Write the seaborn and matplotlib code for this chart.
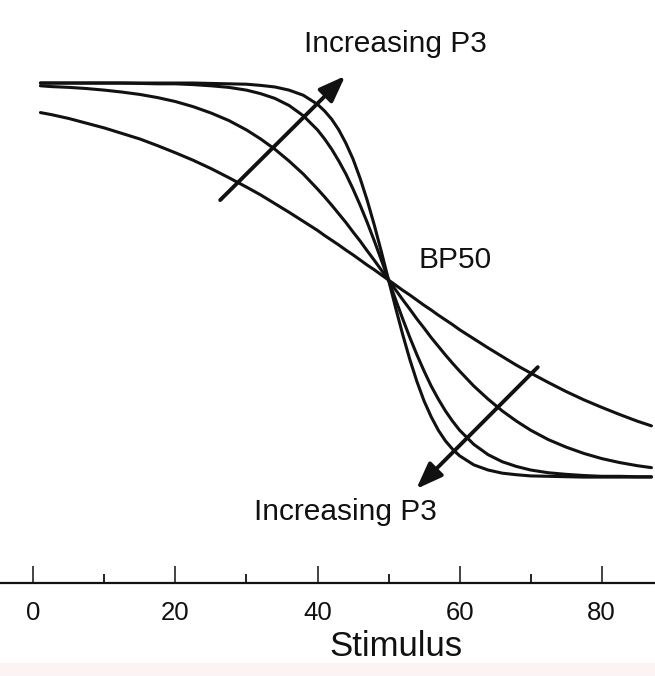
import matplotlib
matplotlib.use("Agg")
import matplotlib.pyplot as plt
import seaborn as sns
import pandas as pd
from matplotlib.patches import Rectangle

# ---- data ----
stimulus = [1, 2.5, 5, 7.5, 10, 12.5, 15, 17.5, 20, 22.5, 25, 27.5, 30, 32, 34, 36, 38,
            40, 41, 42, 43, 44, 45, 46, 47, 48, 49, 50, 51, 52, 53, 54, 55, 56, 57, 58, 59,
            60, 62, 64, 66, 68, 70, 72.5, 75, 77.5, 80, 82.5, 85, 87]

curve_p3_1 = [0.925, 0.920, 0.910, 0.898, 0.886, 0.872, 0.858, 0.841, 0.823, 0.804, 0.783,
              0.760, 0.736, 0.716, 0.694, 0.672, 0.649,
              0.626, 0.613, 0.601, 0.589, 0.576, 0.564, 0.551, 0.538, 0.526, 0.513, 0.500,
              0.487, 0.474, 0.462, 0.449, 0.436, 0.424, 0.411, 0.399, 0.387,
              0.374, 0.351, 0.328, 0.306, 0.284, 0.264, 0.240, 0.217, 0.196, 0.177, 0.159,
              0.142, 0.130]

curve_p3_2 = [0.993, 0.991, 0.989, 0.986, 0.982, 0.977, 0.971, 0.963, 0.953, 0.940, 0.924,
              0.905, 0.881, 0.858, 0.832, 0.802, 0.769,
              0.731, 0.711, 0.690, 0.668, 0.646, 0.622, 0.599, 0.574, 0.550, 0.525, 0.500,
              0.475, 0.450, 0.426, 0.401, 0.378, 0.354, 0.332, 0.310, 0.289,
              0.269, 0.231, 0.198, 0.168, 0.142, 0.119, 0.095, 0.076, 0.060, 0.047, 0.037,
              0.029, 0.024]

curve_p3_3 = [1.000, 1.000, 1.000, 1.000, 1.000, 1.000, 0.999, 0.998, 0.998, 0.996, 0.993,
              0.989, 0.982, 0.973, 0.961, 0.943, 0.917,
              0.881, 0.858, 0.832, 0.802, 0.769, 0.731, 0.690, 0.646, 0.599, 0.550, 0.500,
              0.450, 0.401, 0.354, 0.310, 0.269, 0.231, 0.198, 0.168, 0.142,
              0.119, 0.083, 0.057, 0.039, 0.027, 0.018, 0.011, 0.007, 0.004, 0.002, 0.002,
              0.001, 0.001]

curve_p3_4 = [1.000, 1.000, 1.000, 1.000, 1.000, 1.000, 1.000, 1.000, 1.000, 1.000, 0.999,
              0.998, 0.997, 0.994, 0.990, 0.982, 0.969,
              0.946, 0.929, 0.908, 0.881, 0.847, 0.807, 0.758, 0.702, 0.639, 0.571, 0.500,
              0.429, 0.361, 0.298, 0.242, 0.193, 0.153, 0.119, 0.092, 0.071,
              0.054, 0.031, 0.018, 0.010, 0.006, 0.003, 0.002, 0.001, 0.000, 0.000, 0.000,
              0.000, 0.000]

curve_names = ["P3 low", "P3 mid-low", "P3 mid-high", "P3 high"]
major_ticks = [0, 20, 40, 60, 80]
minor_ticks = [10, 30, 50, 70]
tick_labels = ["0", "20", "40", "60", "80"]

rows = []
for name, vals in zip(curve_names, [curve_p3_1, curve_p3_2, curve_p3_3, curve_p3_4]):
    for xv, yv in zip(stimulus, vals):
        rows.append({"Stimulus": xv, "Response": yv, "curve": name})
df = pd.DataFrame(rows)

# ---- style ----
sns.set_style("white")
plt.rcParams["font.family"] = ["Liberation Sans", "DejaVu Sans"]

fig = plt.figure(figsize=(6.55, 6.76), dpi=100)
fig.patch.set_facecolor("white")
ax = fig.add_axes([0.0, 0.138, 1.0, 0.862])
ax.set_facecolor("none")

sns.lineplot(data=df, x="Stimulus", y="Response", hue="curve",
             palette=["#111111"] * 4, legend=False, errorbar=None,
             linewidth=2.2, ax=ax)

ax.set_xlim(-4.69, 87.5)
ax.set_ylim(-0.268, 1.2107)

for side in ["left", "right", "top"]:
    ax.spines[side].set_visible(False)
ax.spines["bottom"].set_linewidth(1.6)
ax.spines["bottom"].set_color("#111111")

ax.set_yticks([])
ax.set_ylabel("")
ax.set_xticks(major_ticks)
ax.set_xticklabels(tick_labels)
ax.set_xticks(minor_ticks, minor=True)
ax.tick_params(axis="x", which="both", bottom=True, top=False)
ax.tick_params(axis="x", which="major", direction="in", length=12, width=1.1,
               labelsize=18.5, pad=13, color="#111111", labelcolor="#111111")
ax.tick_params(axis="x", which="minor", direction="in", length=6.5, width=1.3,
               color="#111111")

ax.set_xlabel("Stimulus", fontsize=25, color="#111111")
ax.xaxis.set_label_coords(395.5 / 655, -0.081)

# ---- annotations ----
txt_kw = dict(fontsize=21.5, color="#111111", ha="center", va="baseline")
ax.text(50.9, 1.0795, "Increasing P3", **txt_kw)
ax.text(59.4, 0.530, "BP50", **txt_kw)
ax.text(44.0, -0.109, "Increasing P3", **txt_kw)

arrow_kw = dict(arrowstyle="-|>,head_length=0.8,head_width=0.3", lw=2.8,
                color="#111111", mutation_scale=20, shrinkA=0, shrinkB=0)
ax.annotate("", xy=(43.9, 1.018), xytext=(26.3, 0.703), arrowprops=arrow_kw)
ax.annotate("", xy=(53.9, -0.030), xytext=(71.0, 0.279), arrowprops=arrow_kw)

# faint pink band at the bottom of the scan
fig.patches.append(Rectangle((0, 0), 1, 13 / 676, transform=fig.transFigure,
                             facecolor="#fcf3f5", edgecolor="none", zorder=-1))

fig.savefig("out.png", dpi=100)
